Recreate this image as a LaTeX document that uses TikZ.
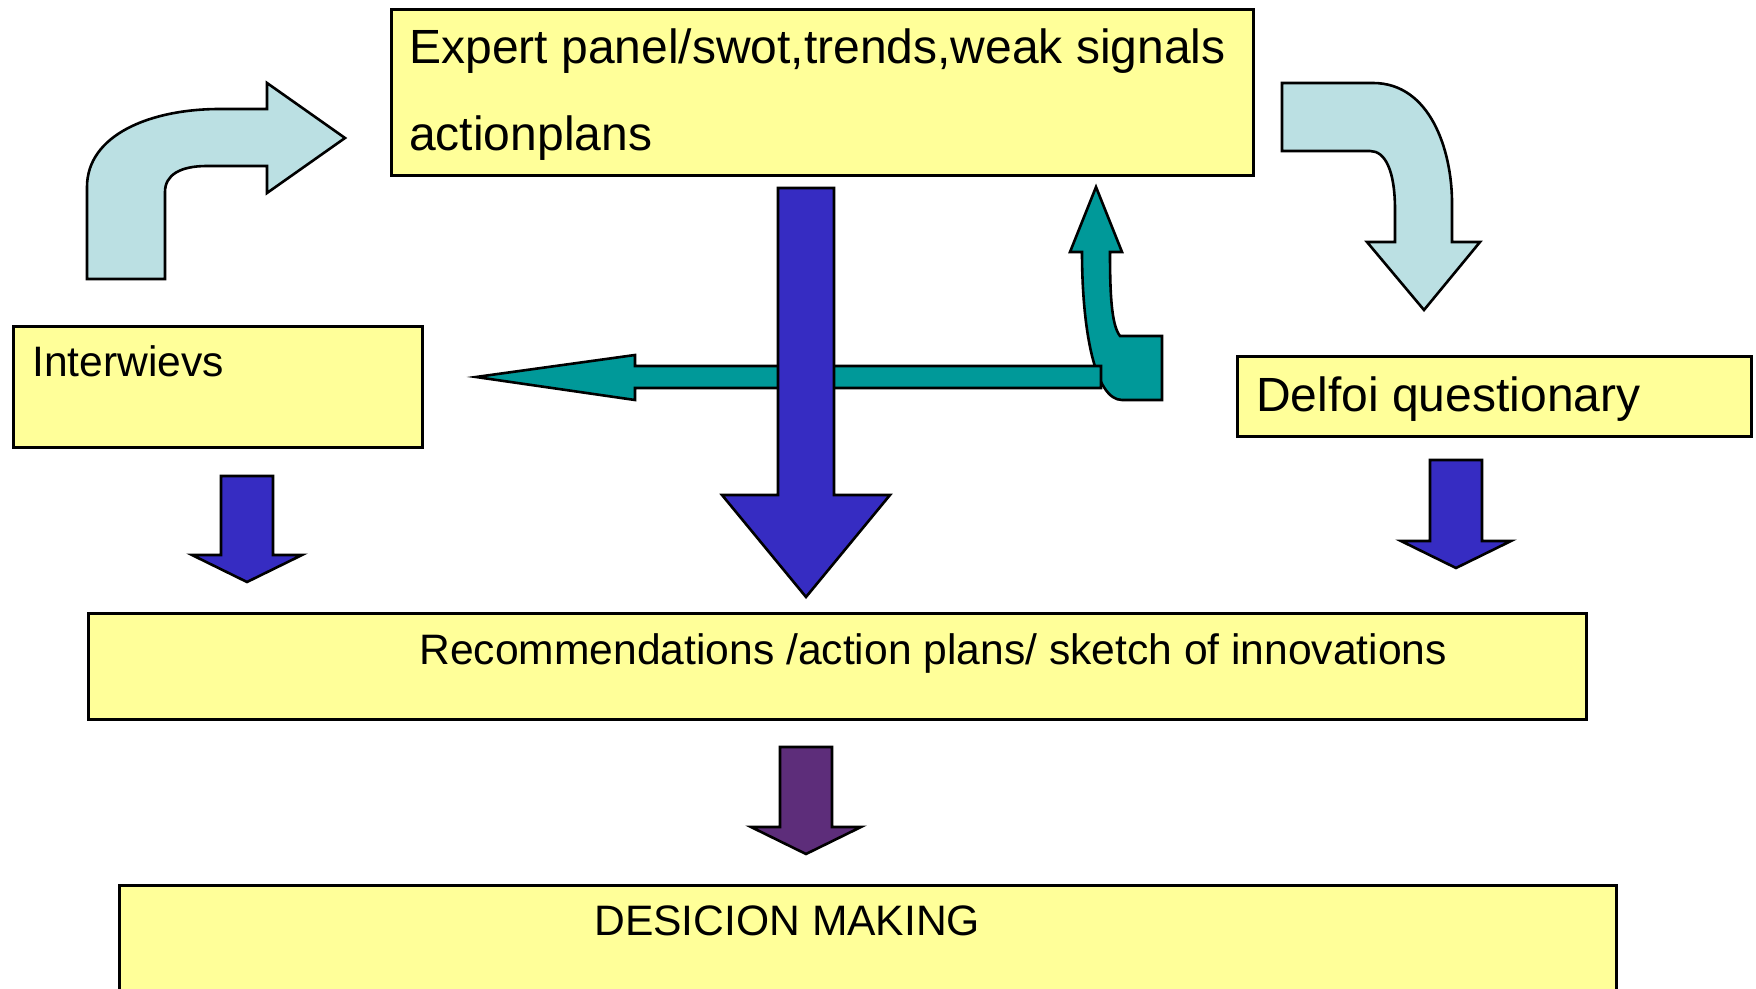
\documentclass[tikz,border=0pt]{standalone}
\usepackage{fontspec}
\setmainfont{Liberation Sans}
\definecolor{boxyellow}{RGB}{255,255,153}
\definecolor{paleblue}{RGB}{187,224,227}
\definecolor{deepblue}{RGB}{54,44,194}
\definecolor{tealarr}{RGB}{0,153,153}
\definecolor{plum}{RGB}{93,45,122}
\begin{document}
\begin{tikzpicture}[x=.5pt,y=-.5pt, line width=1.3pt,
  box/.style={draw, fill=boxyellow, inner sep=0pt, anchor=north west},
  blk/.style={draw, line width=1.3pt},
  bigtxt/.style={anchor=base west, inner sep=0pt, font=\fontsize{24}{28}\selectfont},
  smalltxt/.style={anchor=base west, inner sep=0pt, font=\fontsize{21.3}{25}\selectfont}]
\useasboundingbox (0,0) rectangle (1756,989);
\clip (0,0) rectangle (1756,989);
% boxes
\node[box, minimum width=431pt, minimum height=83pt] (expert) at (390,8) {};
\node[box, minimum width=204.5pt, minimum height=60.5pt] (interv) at (12,325) {};
\node[box, minimum width=257pt, minimum height=40pt] (delfoi) at (1236,355) {};
\node[box, minimum width=749pt, minimum height=53pt] (recom) at (87,612) {};
\node[box, minimum width=748.5pt, minimum height=60pt] (decis) at (118,884) {};
\node[bigtxt] (experta) at (408,64) {Expert panel/swot,trends,weak signals};
\node[bigtxt] (expertb) at (408,151) {actionplans};
\node[smalltxt] (intervtxt) at (31,377) {Interwievs};
\node[bigtxt] (delfoitxt) at (1255,412) {Delfoi questionary};
\node[smalltxt] (recomtxt) at (418,664) {Recommendations /action plans/ sketch of innovations};
\node[smalltxt] (decistxt) at (593,935) {DESICION MAKING};
% bent arrows
\draw[blk, fill=paleblue] (87,279) -- (87,187) .. controls (87,135) and (150,109) .. (220,109) -- (267,109) -- (267,83) -- (345,138) -- (267,193) -- (267,166) -- (207,166) .. controls (180,166) and (165,175) .. (165,192) -- (165,279) -- cycle;
\draw[blk, fill=paleblue] (1282,83) -- (1373,83) .. controls (1430,83) and (1452,150) .. (1452,203) -- (1452,242) -- (1480,242) -- (1424,310) -- (1367,242) -- (1395,242) -- (1395,210) .. controls (1395,170) and (1385,151) .. (1370,151) -- (1282,151) -- cycle;
\draw[blk, fill=tealarr] (1162,400) -- (1162,336) -- (1120,336) .. controls (1111,325) and (1110,290) .. (1110,252) -- (1122,252) -- (1096,187) -- (1070,252) -- (1082,252) .. controls (1082,330) and (1095,400) .. (1122,400) -- cycle;
% straight arrows
\draw[blk, fill=tealarr] (1101,366) -- (1101,388) -- (635,388) -- (635,400) -- (476,377) -- (635,355) -- (635,366) -- cycle;
\draw[blk, fill=deepblue] (778,188) -- (834,188) -- (834,495) -- (890,495) -- (806,597) -- (722,495) -- (778,495) -- cycle;
\foreach \x/\t/\b/\c in {247/476/555/deepblue, 1456/460/541/deepblue, 806/747/827/plum}
  \draw[blk, fill=\c] (\x-26,\t) -- (\x+26,\t) -- (\x+26,\b) -- (\x+55,\b) -- (\x,\b+27) -- (\x-55,\b) -- (\x-26,\b) -- cycle;
\end{tikzpicture}
\end{document}
